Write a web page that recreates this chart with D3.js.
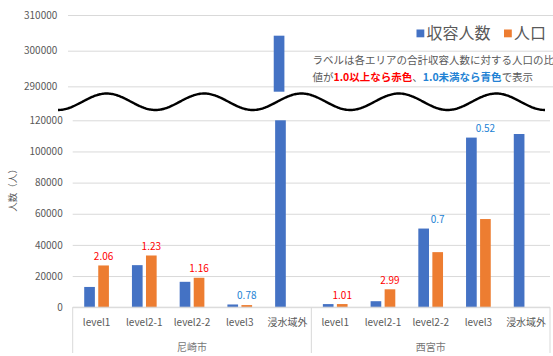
<!DOCTYPE html>
<html>
<head>
<meta charset="utf-8">
<script src="https://cdn.jsdelivr.net/npm/d3@7"></script>
<style>
  html, body { margin: 0; padding: 0; background: #fff; }
  svg { display: block; }
  text { font-family: "Noto Sans CJK JP", "Noto Sans", sans-serif; }
</style>
</head>
<body>
<script>
// 各市・浸水レベル別の収容人数と人口
const cities = ["尼崎市", "西宮市"];
const levels = ["level1", "level2-1", "level2-2", "level3", "浸水域外"];
const capacityAmagasaki = [13000, 27000, 16300, 1750, 304200];
const populationAmagasaki = [26800, 33200, 18900, 1365, null];
const capacityNishinomiya = [2000, 3850, 50500, 108900, 111200];
const populationNishinomiya = [2020, 11500, 35350, 56600, null];
const lowerTicks = [0, 20000, 40000, 60000, 80000, 100000, 120000];
const upperTicks = [290000, 300000, 310000];
const seriesNames = ["収容人数", "人口"];

const W = 553, H = 356;
const colors = { cap: "#4472c4", pop: "#ed7d31" };
const gridColor = "#d9d9d9";
const textColor = "#595959";
const red = "#ff0000", blue = "#2382d4";

const capacityByCity = [capacityAmagasaki, capacityNishinomiya];
const populationByCity = [populationAmagasaki, populationNishinomiya];
const rows = [];
cities.forEach((city, i) => {
  levels.forEach((level, j) => {
    rows.push({ key: city + "|" + level, city, level,
                cap: capacityByCity[i][j], pop: populationByCity[i][j] });
  });
});

const svg = d3.select("body").append("svg").attr("width", W).attr("height", H);

// 下段（0〜120000）と上段（288500〜310000）の二つの縦軸
const lowL = 72.7, lowR = 550;
const x = d3.scaleBand().domain(rows.map(d => d.key)).range([lowL, lowR]).padding(0);
const xs = d3.scaleBand().domain(["cap", "pop"]).range([0, x.bandwidth()])
  .paddingInner(0.24).paddingOuter(0.82);
const xHigh = d3.scaleBand().domain(rows.map(d => d.key)).range([71.3, 548.6]).padding(0);
const yLow = d3.scaleLinear().domain([0, 120000]).range([307.2, 120.3]);
const highBottom = 91.7;
const yHigh = d3.scaleLinear().domain([288500, 310000]).range([highBottom, 15]);

// 目盛線と目盛ラベル（下段）
const lowAxis = svg.append("g").attr("transform", `translate(${lowL},0)`)
  .call(d3.axisLeft(yLow).tickValues(lowerTicks).tickFormat(d3.format("d"))
    .tickSize(-(lowR - lowL)).tickPadding(10));
lowAxis.select(".domain").remove();
lowAxis.selectAll("line").attr("stroke", gridColor).attr("stroke-width", 1);
lowAxis.selectAll("text").attr("fill", textColor).style("font-size", "10px");

// 目盛線と目盛ラベル（上段）
const highL = 68, highR = 553;
const highAxis = svg.append("g").attr("transform", `translate(${highL},0)`)
  .call(d3.axisLeft(yHigh).tickValues(upperTicks).tickFormat(d3.format("d"))
    .tickSize(-(highR - highL)).tickPadding(10.7));
highAxis.select(".domain").remove();
highAxis.selectAll("line").attr("stroke", gridColor).attr("stroke-width", 1);
highAxis.selectAll("text").attr("fill", textColor).style("font-size", "10px");

// 下段の棒（120000 で打ち切り）
const barsLow = svg.append("g");
rows.forEach(d => {
  ["cap", "pop"].forEach(s => {
    const v = d[s];
    if (v == null) return;
    const top = yLow(Math.min(v, yLow.domain()[1]));
    barsLow.append("rect")
      .attr("x", x(d.key) + xs(s))
      .attr("y", top)
      .attr("width", xs.bandwidth())
      .attr("height", yLow(0) - top)
      .attr("fill", colors[s]);
  });
});

// 上段の棒（288500 を超える部分）
const barsHigh = svg.append("g");
rows.forEach(d => {
  ["cap", "pop"].forEach(s => {
    const v = d[s];
    if (v == null || v <= yHigh.domain()[0]) return;
    const top = yHigh(v);
    barsHigh.append("rect")
      .attr("x", xHigh(d.key) + xs(s))
      .attr("y", top)
      .attr("width", xs.bandwidth())
      .attr("height", highBottom - top)
      .attr("fill", colors[s]);
  });
});

// 省略を示す波線
const waveX0 = 58, waveX1 = 545, period = (waveX1 - waveX0) / 5;
const wave = d3.line()
  .x(t => t)
  .y(t => 101.75 + 8.25 * Math.cos(2 * Math.PI * (t - waveX0) / period))
  .curve(d3.curveBasis);
svg.append("path")
  .attr("d", wave(d3.range(waveX0, waveX1 + 0.5, 1)))
  .attr("fill", "none").attr("stroke", "#000").attr("stroke-width", 2.4);

// 横軸：基線・区切り線・カテゴリ名・市名
svg.append("line").attr("x1", lowL).attr("x2", lowR)
  .attr("y1", yLow(0)).attr("y2", yLow(0)).attr("stroke", gridColor);
const cityEdges = cities.map(c => x(c + "|" + levels[0])).concat([lowR]);
cityEdges.forEach(ex => {
  svg.append("line").attr("x1", ex).attr("x2", ex)
    .attr("y1", yLow(0)).attr("y2", 353).attr("stroke", gridColor);
});
svg.append("g").selectAll("text").data(rows).join("text")
  .attr("x", d => x(d.key) + x.bandwidth() / 2)
  .attr("y", 325.5)
  .attr("text-anchor", "middle")
  .attr("fill", textColor)
  .style("font-size", "10px")
  .text(d => d.level);
svg.append("g").selectAll("text").data(cities).join("text")
  .attr("x", (c, i) => (cityEdges[i] + cityEdges[i + 1]) / 2)
  .attr("y", 350.5)
  .attr("text-anchor", "middle")
  .attr("fill", "#767676")
  .style("font-size", "10px")
  .text(c => c);

// 比率ラベル（人口 ÷ 収容人数）
const fmtRatio = r => String(+r.toFixed(2));
svg.append("g").selectAll("text").data(rows.filter(d => d.pop != null)).join("text")
  .attr("x", d => x(d.key) + xs("pop") + xs.bandwidth() / 2)
  .attr("y", d => yLow(Math.max(d.cap, d.pop)) - 5.5)
  .attr("text-anchor", "middle")
  .attr("fill", d => d.pop / d.cap >= 1 ? red : blue)
  .style("font-size", "10px")
  .text(d => fmtRatio(d.pop / d.cap));

// 縦軸タイトル
svg.append("text")
  .attr("transform", "translate(15.5,188) rotate(-90)")
  .attr("text-anchor", "middle")
  .attr("fill", textColor)
  .style("font-size", "9.5px")
  .text("人数（人）");

// 凡例
const legendPos = [{ sx: 416.5, tx: 426.5, s: "cap" }, { sx: 504, tx: 514, s: "pop" }];
legendPos.forEach((p, i) => {
  svg.append("rect").attr("x", p.sx).attr("y", 29.5).attr("width", 7.8).attr("height", 7.8)
    .attr("fill", colors[p.s]);
  svg.append("text").attr("x", p.tx).attr("y", 39.3)
    .attr("fill", textColor).style("font-size", "16px").text(seriesNames[i]);
});

// 注記
const note = svg.append("g").style("font-size", "10.5px").attr("fill", textColor);
note.append("text").attr("x", 312.5).attr("y", 63.7)
  .text("ラベルは各エリアの合計収容人数に対する人口の比");
const line2 = note.append("text").attr("x", 312.5).attr("y", 81.2);
line2.append("tspan").text("値が");
line2.append("tspan").attr("fill", red).attr("font-weight", "bold").text("1.0以上なら赤色");
line2.append("tspan").text("、");
line2.append("tspan").attr("fill", blue).attr("font-weight", "bold").text("1.0未満なら青色");
line2.append("tspan").text("で表示");
</script>
</body>
</html>
